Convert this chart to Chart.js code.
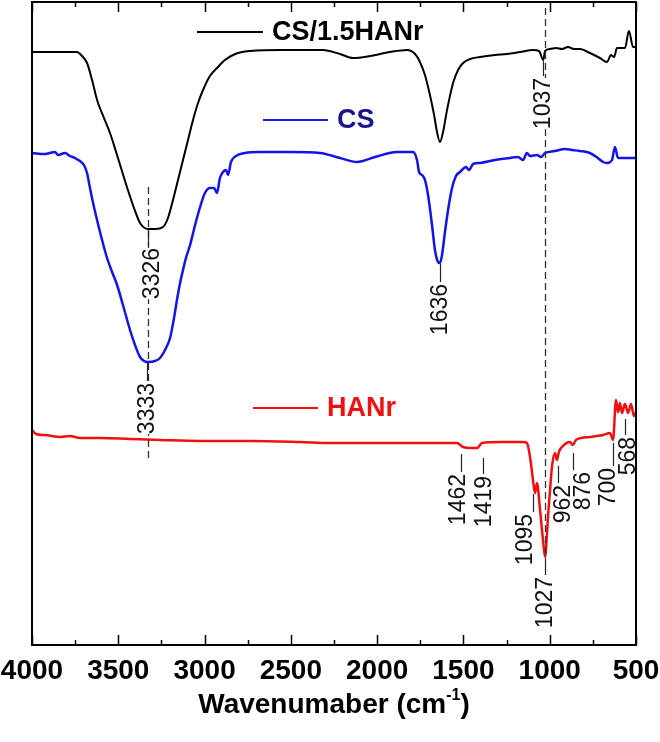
<!DOCTYPE html>
<html><head><meta charset="utf-8">
<script src="https://cdn.jsdelivr.net/npm/chart.js@4.4.1/dist/chart.umd.min.js"></script>
<style>html,body{margin:0;padding:0;background:#fff}#wrap{width:660px;height:742px;position:relative}</style>
</head><body><div id="wrap"><canvas id="c" width="660" height="742"></canvas></div>
<script>
// ---------- DATA ----------
const xTickValues = [4000, 3500, 3000, 2500, 2000, 1500, 1000, 500];
const seriesNames = ["CS/1.5HANr", "CS", "HANr"];

// CS/1.5HANr (black)
const wnBlack = [4000,3896,3739,3710,3681,3652,3623,3583,3548,3502,
  3450,3409,3374,3328,3287,3241,3212,3183,3154,3125,
  3096,3067,3038,3009,2969,2928,2882,2835,2783,2737,
  2563,2314,2215,2140,2041,1925,1827,1780,1752,1723,
  1694,1670,1653,1636,1618,1595,1560,1531,1502,1462,
  1404,1317,1248,1172,1097,1062,1037,1027,998,963,
  929,894,859,825,767,709,668,645,627,610,
  564,541,517,500];
const tBlack = [593,593,593,589,582,565,545,527,512,487,
  458,437,422,416,416,418,427,445,465,485,
  505,525,542,555,569,577,585,590,593,594,
  595,595,591,587,589,593,595,591,583,570,
  550,530,513,503,513,535,562,575,582,586,
  588,590,591,593,595,594,585,594,596,597,
  596,598,596,596,592,587,583,590,588,597,
  597,614,598,598];

// CS (blue)
const wnBlue = [4000,3925,3867,3849,3809,3780,3751,3722,3699,3681,
  3664,3646,3623,3594,3565,3536,3507,3473,3432,3403,
  3374,3351,3328,3287,3258,3229,3200,3177,3160,3142,
  3125,3108,3084,3055,3026,2998,2969,2945,2928,2911,
  2893,2876,2864,2847,2818,2766,2679,2505,2331,2215,
  2117,2012,1885,1792,1769,1757,1740,1723,1705,1682,
  1665,1647,1636,1624,1607,1589,1566,1543,1520,1485,
  1468,1444,1404,1317,1230,1184,1155,1132,1114,1074,
  1051,1027,970,912,871,825,767,721,691,668,
  639,622,604,564,500];
const tBlue = [492,491,493,490,492,489,487,484,480,472,
  457,442,425,405,387,373,360,340,315,300,
  288,284,283,284,287,295,307,327,345,362,
  375,387,400,420,438,452,457,457,452,467,
  473,475,470,483,489,492,493,493,492,487,
  483,488,493,493,485,473,470,465,450,420,
  395,383,382,390,413,435,457,469,473,478,
  475,481,482,485,487,488,485,492,489,490,
  488,492,494,496,495,494,492,487,483,482,
  485,498,487,487,487];

// HANr (red)
const wnRed = [4000,3977,3925,3838,3780,3722,3606,3432,3258,3026,
  2737,2447,2273,1867,1537,1502,1462,1421,1392,1288,
  1155,1132,1114,1097,1085,1074,1056,1039,1027,1016,
  1010,998,987,970,958,947,929,883,866,848,
  767,691,651,633,616,604,593,581,564,546,
  529,512,500];
const tRed = [215,211,210,208,209,207,207,206,205,204,
  204,203,202,202,202,198,197,197,202,203,
  203,202,188,165,152,162,135,105,88,110,
  128,155,178,192,185,193,198,203,200,205,
  208,210,212,205,245,233,242,232,241,232,
  241,229,233];

// peak annotations
const annoText = ["3326","3333","1636","1037","1462","1419","1095","1027","962","876","700","568"];
const annoWn   = [3326, 3333, 1636, 1037, 1462, 1419, 1095, 1027, 962, 876, 700, 568];
const annoT    = [416, 283, 382, 585, 192, 188, 152, 88, 180, 193, 203, 227];
// dashed guide lines
const guideWn   = [3330, 1027];
const guideFrom = [458, 637];
const guideTo   = [183, 88];

// ---------- STYLE ----------
const FONT = '"Liberation Sans", Arial, Helvetica, sans-serif';
const colors = ["#000000", "#1414e6", "#f01010"];
const labelColors = ["#000000", "#16168a", "#f01010"];
const annoStyle = { // leader nudge, text offset, leader length (px)
  leaderDx: [0,0,0,0,-9,6,0,0,2,2,12,1],
  textDx:   [4,0,0,0,-3,1,-8,0,5,10,-5,3],
  len:      [17,19,19,16,19,17,19,18,18,18,24,17]
};

function pts(wn, t){ return wn.map((w,i)=>({x:w, y:t[i]})); }

const decor = {
  id: 'decor',
  afterDatasetsDraw(chart){
    const ctx = chart.ctx, xs = chart.scales.x, ys = chart.scales.y, a = chart.chartArea;
    ctx.save();
    // dashed guides
    ctx.strokeStyle = '#333'; ctx.lineWidth = 1.3; ctx.setLineDash([7,4]);
    guideWn.forEach((w,i)=>{
      const x = Math.round(xs.getPixelForValue(w))+0.5;
      ctx.beginPath(); ctx.moveTo(x, ys.getPixelForValue(guideFrom[i])); ctx.lineTo(x, ys.getPixelForValue(guideTo[i])); ctx.stroke();
    });
    ctx.setLineDash([]);
    // peak labels
    ctx.font = '23px ' + FONT;
    annoText.forEach((txt,i)=>{
      const x = Math.round(xs.getPixelForValue(annoWn[i]) + annoStyle.leaderDx[i]) + 0.5;
      const y0 = ys.getPixelForValue(annoT[i]);
      const len = annoStyle.len[i];
      const w = ctx.measureText(txt).width;
      const tx = x + annoStyle.textDx[i], ty = y0 + len + 2;
      ctx.fillStyle = '#fff'; ctx.fillRect(tx-9, ty, 18, w);
      ctx.strokeStyle = '#222'; ctx.lineWidth = 1.2;
      ctx.beginPath(); ctx.moveTo(x, y0 + 1); ctx.lineTo(x, y0 + len); ctx.stroke();
      ctx.save(); ctx.translate(tx, ty); ctx.rotate(-Math.PI/2);
      ctx.textAlign = 'right'; ctx.textBaseline = 'middle'; ctx.fillStyle = '#111';
      ctx.fillText(txt, 0, 0); ctx.restore();
    });
    // frame
    ctx.strokeStyle = '#000'; ctx.lineWidth = 2;
    ctx.strokeRect(a.left, a.top, a.right - a.left, a.bottom - a.top);
    // inward ticks (major 500, minor 250)
    ctx.lineWidth = 1.5;
    for (let v = 500; v <= 4000; v += 250){
      const x = Math.round(xs.getPixelForValue(v)) + 0.5;
      const L = (v % 500 === 0) ? 10 : 5;
      ctx.beginPath();
      ctx.moveTo(x, a.bottom); ctx.lineTo(x, a.bottom - L);
      ctx.moveTo(x, a.top); ctx.lineTo(x, a.top + L);
      ctx.stroke();
    }
    // legend entries
    const leg = [
      {x1:197, x2:263, y:32, tx:272},
      {x1:263, x2:328, y:120, tx:337},
      {x1:253, x2:318, y:408, tx:327}
    ];
    ctx.font = 'bold 27px ' + FONT; ctx.textBaseline = 'middle'; ctx.textAlign = 'left';
    leg.forEach((l,i)=>{
      ctx.strokeStyle = colors[i]; ctx.lineWidth = 2.2;
      ctx.beginPath(); ctx.moveTo(l.x1, l.y); ctx.lineTo(l.x2, l.y); ctx.stroke();
      ctx.fillStyle = labelColors[i]; ctx.fillText(seriesNames[i], l.tx, l.y + 1);
    });
    // axis title with superscript
    const cx = (a.left + a.right)/2, ty = 705;
    const p1 = 'Wavenumaber (cm', sup = '-1', p2 = ')';
    ctx.font = 'bold 28px ' + FONT; const w1 = ctx.measureText(p1).width, w3 = ctx.measureText(p2).width;
    ctx.font = 'bold 16px ' + FONT; const w2 = ctx.measureText(sup).width;
    let x0 = cx - (w1 + w2 + w3)/2;
    ctx.fillStyle = '#000';
    ctx.font = 'bold 28px ' + FONT; ctx.fillText(p1, x0, ty);
    ctx.font = 'bold 16px ' + FONT; ctx.fillText(sup, x0 + w1, ty - 9);
    ctx.font = 'bold 28px ' + FONT; ctx.fillText(p2, x0 + w1 + w2, ty);
    ctx.restore();
  }
};

new Chart(document.getElementById('c').getContext('2d'), {
  type: 'line',
  data: { datasets: [
    {label: seriesNames[0], data: pts(wnBlack, tBlack), borderColor: colors[0], borderWidth: 2},
    {label: seriesNames[1], data: pts(wnBlue, tBlue), borderColor: colors[1], borderWidth: 2.5},
    {label: seriesNames[2], data: pts(wnRed, tRed), borderColor: colors[2], borderWidth: 2.5}
  ]},
  options: {
    responsive: false, animation: false, devicePixelRatio: 1,
    layout: {padding: {left: 32, right: 24, top: 2, bottom: 0}},
    elements: {point: {radius: 0}, line: {cubicInterpolationMode: 'monotone', fill: false}},
    plugins: {legend: {display: false}, tooltip: {enabled: false}},
    scales: {
      x: {type: 'linear', reverse: true, min: 500, max: 4000,
        afterFit: (s) => { s.height = 97; s.paddingLeft = 0; s.paddingRight = 0; },
        afterBuildTicks: (s) => { s.ticks = xTickValues.map(v => ({value: v})); },
        ticks: {autoSkip: false, maxRotation: 0, padding: 9, color: '#000',
          callback: (v) => String(v),
          font: {family: FONT, size: 28, weight: 'bold'}},
        grid: {display: false, drawTicks: false}, border: {display: false}},
      y: {display: false, min: 0, max: 643}
    }
  },
  plugins: [decor]
});
</script></body></html>
